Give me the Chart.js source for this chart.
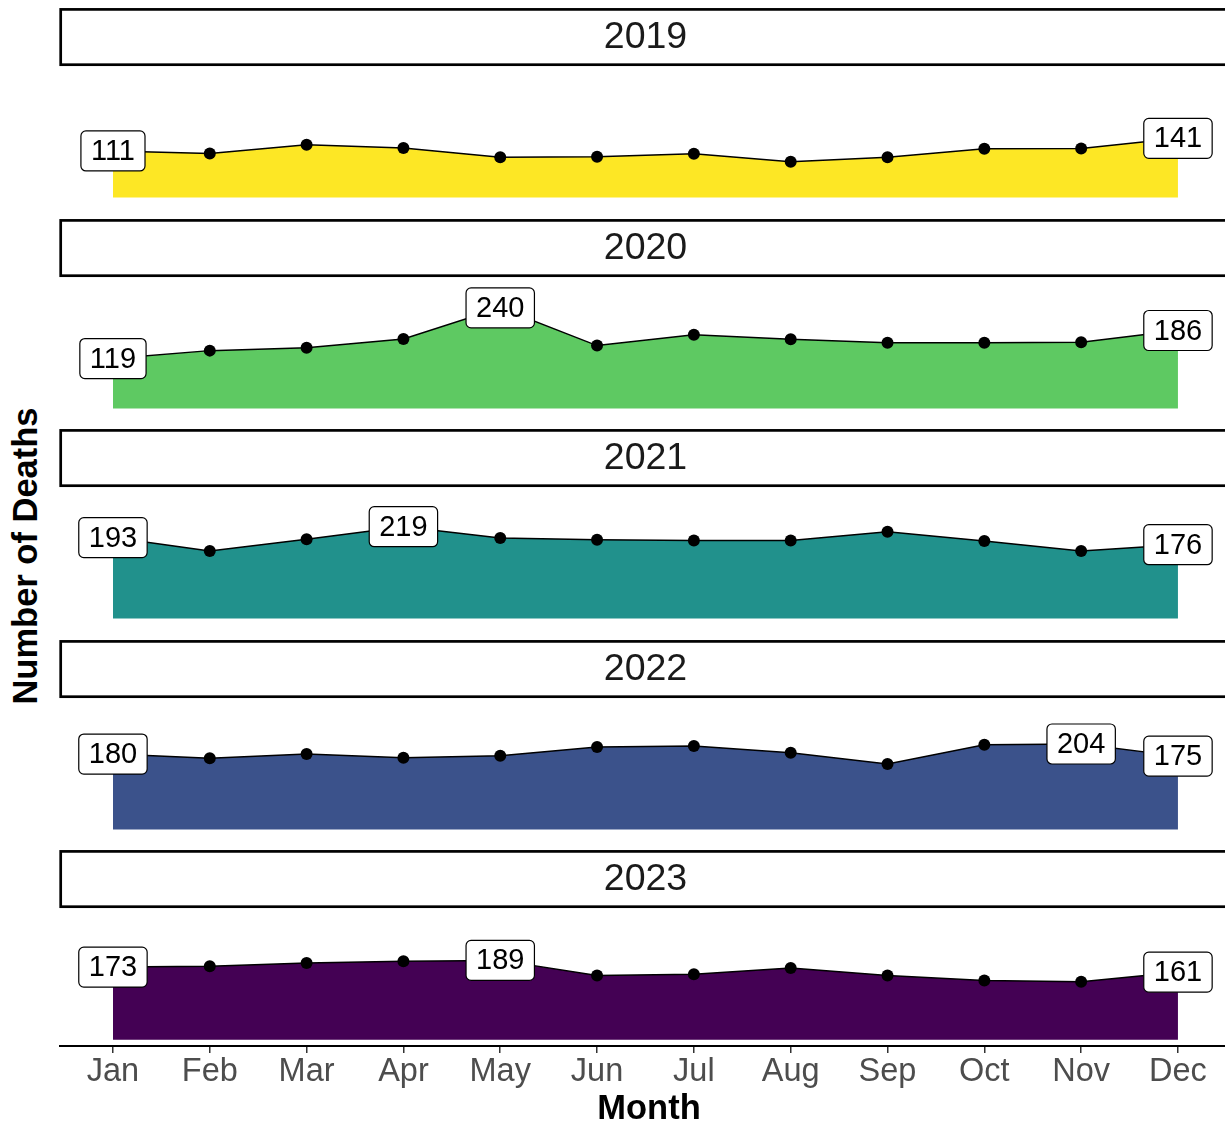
<!DOCTYPE html>
<html>
<head>
<meta charset="utf-8">
<script src="https://cdn.jsdelivr.net/npm/chart.js@4.4.1/dist/chart.umd.min.js"></script>
<style>
  html, body { margin: 0; padding: 0; background: #fff; overflow: hidden; }
  body { width: 1225px; height: 1122px; position: relative; }
  .panel { position: absolute; left: 0; width: 1238px; }
  #yTitle {
    position: absolute; left: 25px; top: 556px;
    transform: translate(-50%, -50%) rotate(-90deg);
    font: bold 34.5px "Liberation Sans", Arial, sans-serif;
    white-space: nowrap; color: #000;
  }
</style>
</head>
<body>
<div id="yTitle">Number of Deaths</div>
<div id="panels"></div>
<script>
const MONTHS = ['Jan', 'Feb', 'Mar', 'Apr', 'May', 'Jun', 'Jul', 'Aug', 'Sep', 'Oct', 'Nov', 'Dec'];
const YEARS = ['2019', '2020', '2021', '2022', '2023'];

// monthly deaths per year
const DEATHS_2019 = [111, 105, 126, 118, 96, 97, 104, 85, 96, 116, 117, 141];
const DEATHS_2020 = [119, 138, 145, 166, 240, 150, 176, 165, 157, 157, 158, 186];
const DEATHS_2021 = [193, 161, 189, 219, 192, 188, 186, 186, 207, 185, 161, 176];
const DEATHS_2022 = [180, 170, 180, 171, 176, 197, 199, 183, 156, 202, 204, 175];
const DEATHS_2023 = [173, 175, 183, 187, 189, 153, 156, 171, 153, 141, 138, 161];

const SERIES = [DEATHS_2019, DEATHS_2020, DEATHS_2021, DEATHS_2022, DEATHS_2023];
const FILLS = ['#FDE725', '#5EC962', '#21918C', '#3B528B', '#440154'];

const FONT = '"Liberation Sans", Arial, Helvetica, sans-serif';

// facet strip above each panel
const stripPlugin = {
  id: 'facetStrip',
  beforeDraw(chart, args, opts) {
    const { ctx } = chart;
    ctx.save();
    ctx.fillStyle = '#fff';
    ctx.fillRect(60.7, 9.4, 1220, 55.3);
    ctx.lineWidth = 2.7;
    ctx.strokeStyle = '#000';
    ctx.strokeRect(60.7, 9.4, 1220, 55.3);
    ctx.fillStyle = '#1a1a1a';
    ctx.font = '37.5px ' + FONT;
    ctx.textAlign = 'center';
    ctx.textBaseline = 'middle';
    ctx.fillText(opts.text, 645.5, 38);
    ctx.restore();
  }
};

// boxed labels on first, highest and last month
const labelPlugin = {
  id: 'pointLabels',
  afterDatasetsDraw(chart) {
    const { ctx } = chart;
    const meta = chart.getDatasetMeta(0);
    const values = chart.data.datasets[0].data.map(d => d.y);
    const maxIdx = values.indexOf(Math.max(...values));
    const picks = [...new Set([0, maxIdx, values.length - 1])];
    ctx.save();
    ctx.font = '29px ' + FONT;
    ctx.textAlign = 'center';
    ctx.textBaseline = 'middle';
    picks.forEach(i => {
      const { x, y } = meta.data[i];
      const text = String(values[i]);
      const w = ctx.measureText(text).width + 20;
      const h = 40;
      ctx.beginPath();
      ctx.roundRect(x - w / 2, y - h / 2, w, h, 5);
      ctx.fillStyle = '#fff';
      ctx.fill();
      ctx.lineWidth = 1.2;
      ctx.strokeStyle = '#000';
      ctx.stroke();
      ctx.fillStyle = '#000';
      ctx.fillText(text, x, y + 1);
    });
    ctx.restore();
  }
};

const holder = document.getElementById('panels');

YEARS.forEach((year, idx) => {
  const isLast = idx === YEARS.length - 1;
  const wrap = document.createElement('div');
  wrap.className = 'panel';
  wrap.style.top = Math.round(210.6 * idx) + 'px';
  wrap.style.height = (isLast ? 290 : 210) + 'px';
  const canvas = document.createElement('canvas');
  wrap.appendChild(canvas);
  holder.appendChild(wrap);

  const xScale = {
    type: 'linear',
    min: -0.547,
    max: 11.62,
    display: isLast,
    border: { display: true, color: '#000', width: 2 },
    grid: {
      drawOnChartArea: false,
      drawTicks: true,
      tickLength: 7,
      color: '#333',
      lineWidth: 1.5
    },
    ticks: {
      stepSize: 1,
      includeBounds: false,
      autoSkip: false,
      maxRotation: 0,
      padding: 0,
      color: '#4d4d4d',
      font: { size: 32.5, family: FONT },
      callback: v => MONTHS[v] ?? ''
    },
    title: {
      display: true,
      text: 'Month',
      color: '#000',
      font: { size: 34.5, weight: 'bold', family: FONT },
      padding: { top: 0, bottom: 2 }
    }
  };
  if (isLast) {
    xScale.afterFit = scale => { scale.height = 86; };
  }

  new Chart(canvas, {
    type: 'line',
    data: {
      datasets: [{
        data: SERIES[idx].map((v, i) => ({ x: i, y: v })),
        borderColor: '#000',
        borderWidth: 1.5,
        backgroundColor: FILLS[idx],
        fill: { value: 0 },
        pointRadius: 6,
        pointBorderWidth: 0,
        pointBackgroundColor: '#000',
        tension: 0
      }]
    },
    options: {
      responsive: true,
      maintainAspectRatio: false,
      animation: false,
      layout: {
        autoPadding: false,
        padding: { left: 60, right: 0, top: 65.5, bottom: isLast ? 0 : 6.3 }
      },
      plugins: {
        legend: { display: false },
        tooltip: { enabled: false },
        facetStrip: { text: year }
      },
      scales: {
        x: xScale,
        y: {
          min: -15,
          max: 315,
          display: false
        }
      }
    },
    plugins: [stripPlugin, labelPlugin]
  });
});
</script>
</body>
</html>
